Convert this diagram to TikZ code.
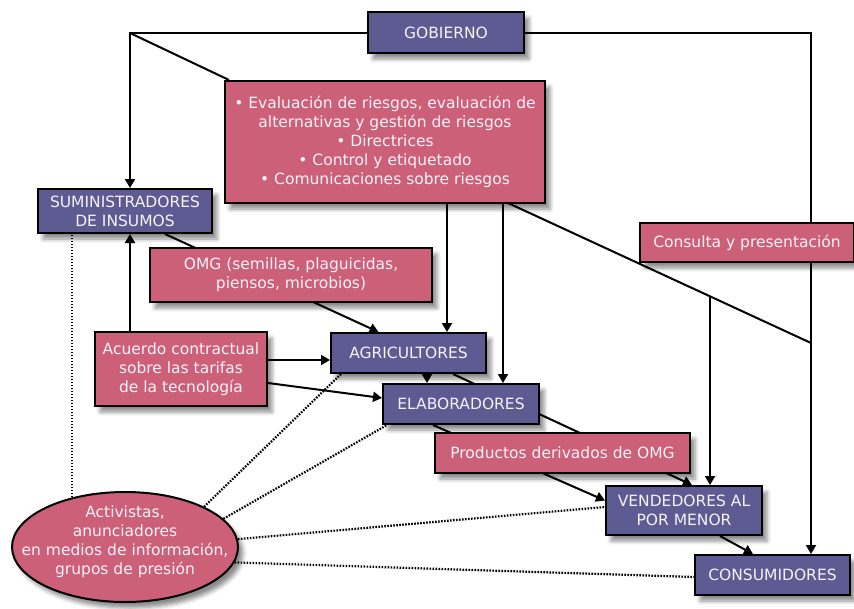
\documentclass[tikz,border=0pt]{standalone}
\usepackage{fontspec}
\setmainfont{DejaVu Sans}
\usetikzlibrary{arrows.meta,shapes.geometric,backgrounds,shadows.blur,calc}
\definecolor{boxpurple}{HTML}{5E5A92}
\definecolor{boxpink}{HTML}{CD6079}
\definecolor{boxtext}{HTML}{F6F2F8}
\begin{document}
\begin{tikzpicture}[x=1pt,y=-1pt,
  base/.style={draw=black, line width=2pt, text=boxtext,
    font=\fontsize{15.5}{19}\selectfont, align=center, inner sep=0pt,
    blur shadow={shadow xshift=5pt, shadow yshift=-6pt, shadow blur radius=4pt, shadow opacity=45}},
  pbox/.style={base, fill=boxpurple},
  rbox/.style={base, fill=boxpink},
  conn/.style={line width=2pt, draw=black},
  arr/.style={conn, -{Triangle[length=9pt,width=10pt]}},
  dots/.style={line width=2.2pt, dash pattern=on 1.6pt off 1.4pt},
  etext/.style={text=boxtext, font=\fontsize{15.5}{19}\selectfont, align=center, inner sep=0pt}
]
\useasboundingbox (0,0) rectangle (854,608);

\node[pbox, minimum width=156, minimum height=41] (gob) at (446,32.5) {GOBIERNO};
\node[rbox, minimum width=320, minimum height=122] (risk) at (385,142) {• Evaluación de riesgos, evaluación de\\alternativas y gestión de riesgos\\• Directrices\\• Control y etiquetado\\• Comunicaciones sobre riesgos};
\node[pbox, minimum width=174, minimum height=44] (sum) at (125,211) {SUMINISTRADORES\\DE INSUMOS};
\node[rbox, minimum width=282, minimum height=54] (omg) at (291,275) {OMG (semillas, plaguicidas,\\piensos, microbios)};
\node[rbox, minimum width=214, minimum height=39] (cons) at (747,242.5) {Consulta y presentación};
\node[rbox, minimum width=172, minimum height=74] (acu) at (181,369) {Acuerdo contractual\\sobre las tarifas\\de la tecnología};
\node[pbox, minimum width=155, minimum height=40] (agr) at (408.5,353) {AGRICULTORES};
\node[pbox, minimum width=156, minimum height=40] (ela) at (461,404) {ELABORADORES};
\node[rbox, minimum width=255, minimum height=40] (prod) at (562.5,453) {Productos derivados de OMG};
\node[pbox, minimum width=156, minimum height=49] (ven) at (684,510.5) {VENDEDORES AL\\POR MENOR};
\node[pbox, minimum width=155, minimum height=40] (con) at (772.5,575) {CONSUMIDORES};
\node[rbox, ellipse, minimum width=226, minimum height=110] (ell) at (125,547) {};
\node[etext] (ellt) at (125,542) {Activistas,\\anunciadores\\en medios de información,\\grupos de presión};

\begin{scope}[on background layer]
  \coordinate (g1) at (130,33);
  \coordinate (g2) at (811,33);
  \draw[arr] (gob.west |- g1) -- (g1) -- (g1 |- sum.north);
  \draw[conn] (g1) -- ([xshift=5pt]risk.north west);
  \draw[arr] (gob.east |- g2) -- (g2) -- (g2 |- con.north);
  \coordinate (ax) at (447,0);
  \coordinate (bx) at (503,0);
  \draw[arr] (ax |- risk.south) -- (ax |- agr.north);
  \draw[arr] (bx |- risk.south) -- (bx |- ela.north);
  \coordinate (d0) at (508,203);
  \coordinate (d2) at (811,343);
  \draw[conn] (d0) -- (d2);
  \path (d0) -- (d2) coordinate[pos=0.6667] (d1);
  \draw[arr] (d1) -- (d1 |- ven.north);
  \draw[arr] ([xshift=40pt]sum.south) -- ([xshift=-30pt]agr.north);
  \draw[arr] (g1 |- acu.north) -- (g1 |- sum.south);
  \draw[arr] ([yshift=9pt]acu.east) -- ([yshift=9pt]acu.east -| agr.west);
  \draw[arr] ([yshift=-14pt]acu.east) -- ([yshift=6pt]ela.west);
  \draw[arr] ([xshift=18.5pt]agr.south) -- ([xshift=18.5pt]agr.south |- ela.north);
  \draw[arr] ([xshift=44.5pt]agr.south) -- ([xshift=8pt]ven.north);
  \draw[arr] ([xshift=-28pt]ela.south) -- ([yshift=10pt]ven.west);
  \draw[arr] ([xshift=36pt]ven.south) -- ([xshift=-19.5pt]con.north);
  \draw[dots] (ell.137.7) -- (ell.137.7 |- sum.south);
  \draw[dots] (ell.27) -- ([xshift=11pt]agr.south west);
  \draw[dots] (ell.16) -- ([xshift=5pt]ela.south west);
  \draw[dots] (ell.4) -- ([yshift=3.5pt]ven.west);
  \draw[dots] (ell.-8) -- ([yshift=-2pt]con.west);
\end{scope}
\end{tikzpicture}
\end{document}
